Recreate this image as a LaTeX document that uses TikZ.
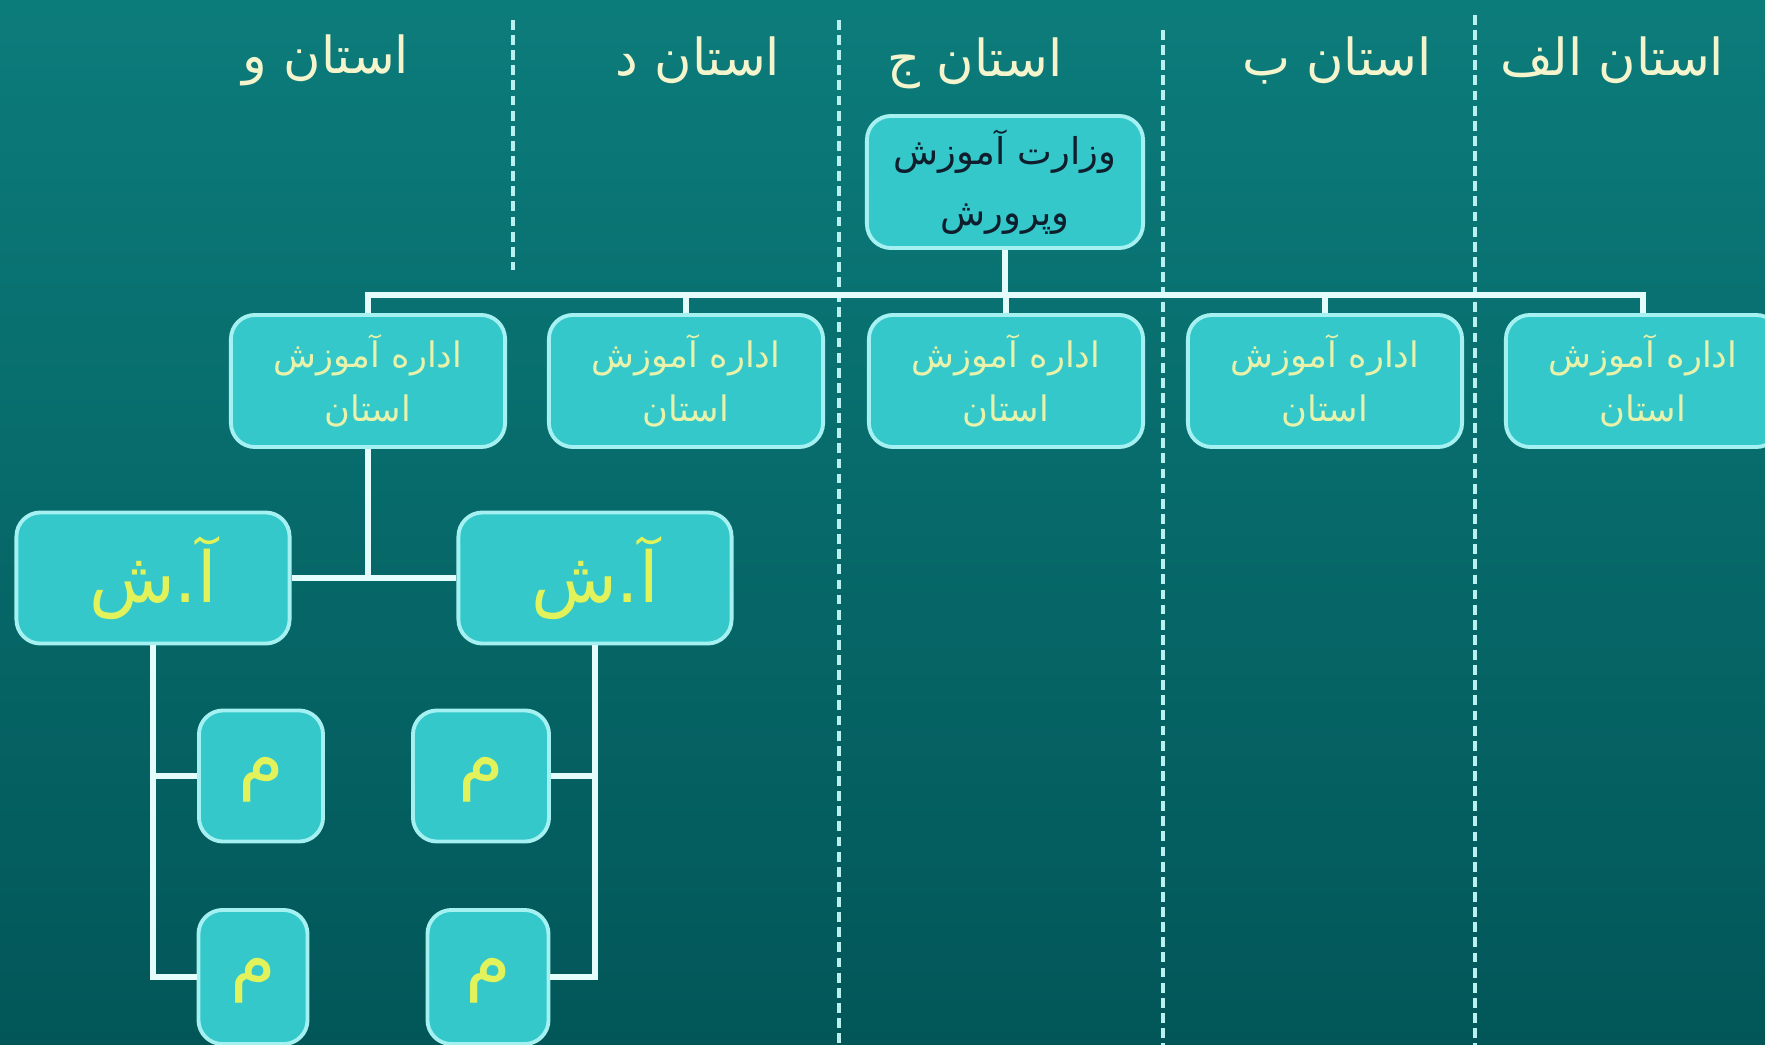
\documentclass[tikz,border=0pt]{standalone}
\usepackage{fontspec}
\newfontfamily\arabicfont[Script=Arabic]{DejaVu Sans}
\TeXXeTstate=1
\definecolor{bgtop}{RGB}{12,124,123}
\definecolor{bgbot}{RGB}{2,86,88}
\definecolor{boxfill}{RGB}{52,200,202}
\definecolor{boxline}{RGB}{165,240,240}
\definecolor{connc}{RGB}{228,252,252}
\definecolor{sepc}{RGB}{185,240,240}
\definecolor{titlecol}{RGB}{245,245,205}
\definecolor{boxtext}{RGB}{232,242,170}
\definecolor{ashtext}{RGB}{225,242,90}
\definecolor{darktext}{RGB}{15,30,45}
\begin{document}
\begin{tikzpicture}[x=0.01cm,y=-0.01cm,
  box/.style={draw=boxline, line width=1.1pt, fill=boxfill, rounded corners=0.24cm, inner sep=0pt, align=center},
  rowbox/.style={box, minimum width=2.74cm, minimum height=1.32cm, text=boxtext, font=\arabicfont\fontsize{10}{15.5}\selectfont},
  ashbox/.style={box, minimum width=2.73cm, minimum height=1.31cm, text=ashtext, font=\arabicfont\fontsize{20}{24}\selectfont},
  mbox/.style={box, minimum height=1.31cm, text=ashtext, font=\arabicfont\fontsize{21}{24}\selectfont},
  connline/.style={draw=connc, line width=1.7pt},
  sepline/.style={draw=sepc, line width=0.9pt, dash pattern=on 2.8pt off 1.5pt},
  titletext/.style={text=titlecol, font=\arabicfont\fontsize{14.5}{18}\selectfont}]
\useasboundingbox (0,0) rectangle (1765,1045);
\shade[top color=bgtop, bottom color=bgbot] (0,0) rectangle (1765,1045);

% separators
\draw[sepline] (513,20) -- (513,270);
\draw[sepline] (839,20) -- (839,1045);
\draw[sepline] (1163,30) -- (1163,1045);
\draw[sepline] (1475,15) -- (1475,1045);

% titles
\node[titletext] (tw) at (326,60) {\beginR استان و\endR};
\node[titletext] (td) at (698,60) {\beginR استان د\endR};
\node[titletext] (tj) at (975,63) {\beginR استان ج\endR};
\node[titletext] (tb) at (1337,60) {\beginR استان ب\endR};
\node[titletext] (ta) at (1612,60) {\beginR استان الف\endR};

% top box
\node[box, minimum width=2.76cm, minimum height=1.32cm, text=darktext, font=\arabicfont\fontsize{10.5}{17.5}\selectfont] (min) at (1005,182)
  {\beginR وزارت آموزش\endR\\\beginR وپرورش\endR};

% row 2
\node[rowbox] (r1) at (368,381) {\beginR اداره آموزش\endR\\\beginR استان\endR};
\node[rowbox] (r2) at (686,381) {\beginR اداره آموزش\endR\\\beginR استان\endR};
\node[rowbox] (r3) at (1006,381) {\beginR اداره آموزش\endR\\\beginR استان\endR};
\node[rowbox] (r4) at (1325,381) {\beginR اداره آموزش\endR\\\beginR استان\endR};
\node[rowbox] (r5) at (1643,381) {\beginR اداره آموزش\endR\\\beginR استان\endR};

\coordinate (bar) at (368,295);

% a.sh boxes
\node[ashbox] (a1) at (153,578) {\beginR آ.ش\endR};
\node[ashbox] (a2) at (595,578) {\beginR آ.ش\endR};

% m boxes
\node[mbox, minimum width=1.24cm] (m1) at (261,776) {\raisebox{-0.35cm}{\beginR م\endR}};
\node[mbox, minimum width=1.36cm] (m2) at (481,776) {\raisebox{-0.35cm}{\beginR م\endR}};
\node[mbox, minimum width=1.09cm, minimum height=1.34cm] (m3) at (253,977) {\raisebox{-0.35cm}{\beginR م\endR}};
\node[mbox, minimum width=1.21cm, minimum height=1.34cm] (m4) at (488,977) {\raisebox{-0.35cm}{\beginR م\endR}};

% connectors
\draw[connline] (min.south) -- (min.south |- bar);
\draw[connline] (r1.north) -- (r1.north |- bar) -- (r5.north |- bar) -- (r5.north);
\draw[connline] (r2.north) -- (r2.north |- bar);
\draw[connline] (r3.north) -- (r3.north |- bar);
\draw[connline] (r4.north) -- (r4.north |- bar);
\draw[connline] (r1.south) -- (r1.south |- a1.east);
\draw[connline] (a1.east) -- (a2.west);
\draw[connline] (a1.south) -- (a1.south |- m3.west) -- (m3.west);
\draw[connline] (a1.south |- m1.west) -- (m1.west);
\draw[connline] (a2.south) -- (a2.south |- m4.east) -- (m4.east);
\draw[connline] (a2.south |- m2.east) -- (m2.east);
\end{tikzpicture}
\end{document}
